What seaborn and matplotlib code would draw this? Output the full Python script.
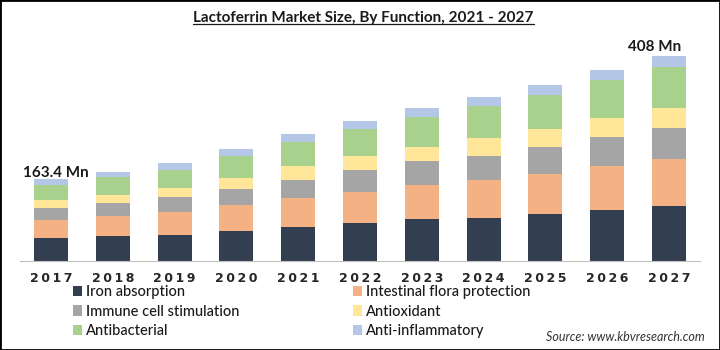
import matplotlib
matplotlib.use("Agg")
import matplotlib.pyplot as plt
from matplotlib.patches import Patch, Rectangle
from matplotlib.lines import Line2D
import numpy as np
import pandas as pd
import seaborn as sns

# 数据（从图中读取，单位：百万美元）
years = ["2017", "2018", "2019", "2020", "2021", "2022", "2023", "2024", "2025", "2026", "2027"]
segments = ["Iron absorption", "Intestinal flora protection", "Immune cell stimulation",
            "Antioxidant", "Antibacterial", "Anti-inflammatory"]
iron = [46, 50, 52.6, 60.6, 68.6, 75.4, 83.4, 86.6, 94, 102, 109]
intestinal = [35.4, 38.6, 44, 50.6, 56, 62.6, 67.4, 75.4, 79.4, 86.6, 93.4]
immune = [24.6, 26.6, 30, 32, 37.4, 42.6, 47.4, 48, 54, 57.4, 62]
antioxidant = [16, 16.6, 18, 22, 26.6, 28, 29.4, 34.6, 34.6, 38, 40.6]
antibacterial = [30, 35.4, 37.4, 43.4, 48, 54.6, 58.6, 64, 68.6, 76, 81.6]
anti_inflam = [11.4, 10.6, 13.4, 13.4, 16, 14.6, 18, 18.6, 19.4, 20, 21.4]
colors = ["#333F50", "#F4B183", "#A5A5A5", "#FFE699", "#A9D18E", "#B4C7E7"]
labels_total = {0: "163.4 Mn", 10: "408 Mn"}

df = pd.DataFrame({"year": years})
for name, vals in zip(segments, [iron, intestinal, immune, antioxidant, antibacterial, anti_inflam]):
    df[name] = vals
cum = df[segments].cumsum(axis=1)

sns.set_style("white")
plt.rcParams['font.family'] = ['Lato', 'DejaVu Sans']

fig = plt.figure(figsize=(7.2, 3.5), dpi=100)
ax = fig.add_axes([20 / 720, 1 - 261 / 350, 680 / 720, 221 / 350])

# 从上往下叠加绘制累计值，实现堆叠柱状图
for i in range(len(segments) - 1, -1, -1):
    sns.barplot(x=df["year"], y=cum[segments[i]], color=colors[i], width=0.55,
                saturation=1, ax=ax, linewidth=0)

ax.set_xlim(-0.5, 10.5)
ax.set_ylim(0, 440)
ax.set_xlabel("")
ax.set_ylabel("")
ax.set_yticks([])
sns.despine(ax=ax, left=True)
ax.spines["bottom"].set_color("#BFBFBF")
ax.tick_params(axis="x", length=0, pad=8)
ax.set_xticks(range(len(years)))
ax.set_xticklabels(["\u2009".join(y) for y in years], fontsize=9, fontweight="bold",
                   color="#262626", family=["DejaVu Sans"])

totals = cum[segments[-1]]
ax.text(0.08, totals[0] - 3, labels_total[0], ha="center", va="bottom",
        fontsize=11, fontweight="bold", color="#1a1a1a")
ax.text(9.76, totals[10] + 4, labels_total[10], ha="center", va="bottom",
        fontsize=11, fontweight="bold", color="#1a1a1a")

# 标题（带下划线）
title = fig.text(0.505, 1 - 18 / 350, "Lactoferrin Market Size, By Function, 2021 - 2027",
                 ha="center", va="center", fontsize=11, fontweight="bold", color="#1a1a1a")
fig.canvas.draw()
bb = title.get_window_extent().transformed(fig.transFigure.inverted())
fig.add_artist(Line2D([bb.x0, bb.x1], [bb.y0 + 0.004, bb.y0 + 0.004],
                      transform=fig.transFigure, color="#1a1a1a", linewidth=0.9))

# 图例（两列）
handles = [Patch(facecolor=c, edgecolor="none") for c in colors]
col1 = [0, 2, 4]
col2 = [1, 3, 5]
leg_kw = dict(frameon=False, fontsize=10.5, handlelength=0.6, handleheight=0.75,
              handletextpad=0.3, labelspacing=0.38, borderpad=0, borderaxespad=0)
leg1 = fig.legend([handles[i] for i in col1], [segments[i] for i in col1],
                  loc="upper left", bbox_to_anchor=(73 / 720, 1 - 285 / 350), **leg_kw)
leg2 = fig.legend([handles[i] for i in col2], [segments[i] for i in col2],
                  loc="upper left", bbox_to_anchor=(353 / 720, 1 - 285 / 350), **leg_kw)
for leg in (leg1, leg2):
    for t in leg.get_texts():
        t.set_color("#1a1a1a")
        t.set_fontweight("medium")

fig.text(705 / 720, 1 - 337 / 350, "Source: www.kbvresearch.com", ha="right", va="center",
         fontsize=9, fontstyle="italic", color="#333333")

fig.add_artist(Rectangle((0, 0), 1, 1, transform=fig.transFigure, fill=False,
                         edgecolor="black", linewidth=2))

fig.savefig("out.png", dpi=100)
